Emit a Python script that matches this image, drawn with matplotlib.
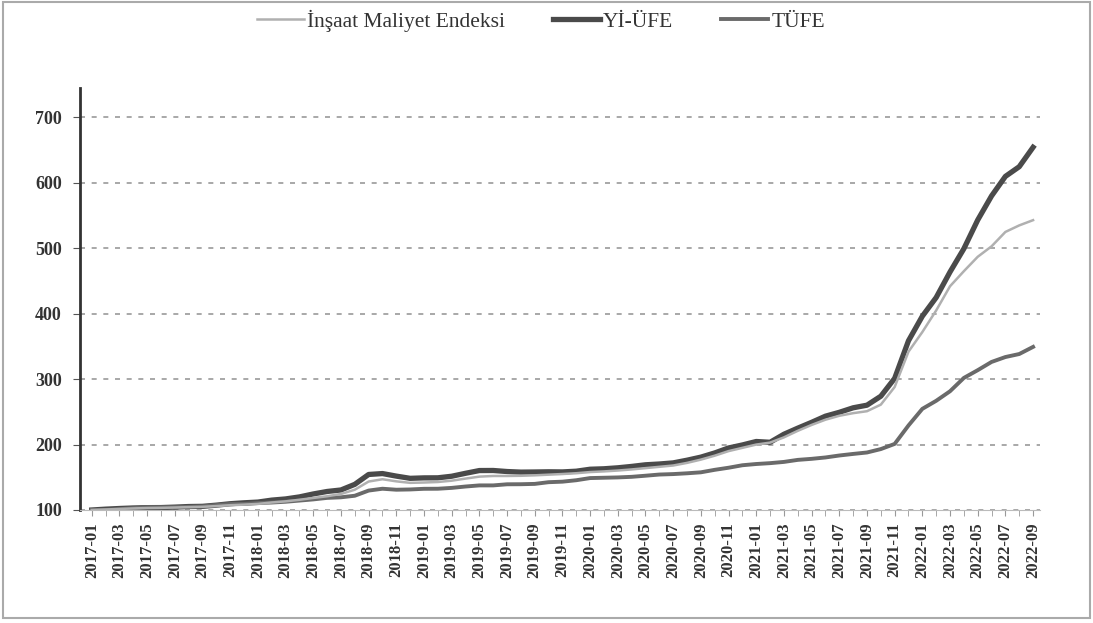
#! python3

import numpy as np
import matplotlib as mpl
import matplotlib.pyplot as plt
from matplotlib.patches import Rectangle

# monthly, 2017-01 .. 2022-09 (2017-01 = 100)
months = ['%d-%02d' % (y, m) for y in range(2017, 2023) for m in range(1, 13)][:69]

insaat = [100, 100.8, 101.6, 102.4, 103.0, 103.3, 103.8, 104.4, 104.9, 106.0, 107.3, 108.2,
          109.3, 111.5, 113.2, 115.6, 118.4, 121.0, 124.5, 131.0, 143.5, 147.0, 143.8, 141.5,
          142.0, 142.8, 144.8, 148.0, 151.0, 152.0, 152.0, 152.3, 153.0, 154.0, 155.0, 156.2,
          158.0, 159.0, 160.3, 162.0, 164.0, 166.0, 168.0, 172.0, 177.0, 183.0, 190.0, 195.0,
          200.0, 203.0, 211.0, 221.0, 230.0, 238.0, 244.0, 248.0, 251.0, 261.0, 288.0, 342.0,
          372.0, 405.0, 442.0, 465.0, 487.0, 503.0, 525.0, 535.0, 543.0]
yi_ufe = [100, 101.3, 102.3, 103.1, 103.6, 103.7, 104.4, 105.3, 105.6, 107.4, 109.6, 111.0,
          112.1, 115.1, 116.9, 120.0, 124.5, 128.3, 130.6, 139.2, 154.3, 155.7, 151.8, 148.4,
          149.1, 149.2, 151.6, 156.1, 160.3, 160.4, 158.8, 157.9, 158.1, 158.4, 158.2, 159.3,
          162.3, 163.0, 164.5, 166.6, 169.1, 170.3, 172.0, 176.1, 180.8, 187.2, 194.8, 199.4,
          204.7, 203.5, 215.8, 225.1, 234.0, 243.4, 249.3, 256.2, 260.2, 273.9, 301.2, 358.7,
          396.2, 424.8, 463.8, 499.4, 543.2, 580.0, 609.9, 624.7, 654.4]
tufe = [100, 100.1, 101.3, 102.8, 104.3, 104.1, 104.3, 104.8, 105.5, 107.5, 109.1, 109.2,
        110.6, 111.4, 112.6, 114.4, 116.2, 118.5, 119.4, 121.8, 129.7, 132.5, 131.0, 131.4,
        132.4, 132.5, 133.8, 135.9, 137.6, 137.6, 139.3, 139.4, 139.9, 142.5, 143.3, 145.5,
        148.8, 149.3, 149.8, 150.7, 152.4, 154.2, 154.9, 156.1, 157.6, 161.4, 164.6, 168.4,
        170.3, 171.6, 173.5, 176.6, 178.2, 180.3, 183.3, 185.7, 187.9, 193.1, 201.0, 229.2,
        254.6, 266.9, 281.5, 301.9, 313.7, 326.3, 333.8, 338.4, 349.3]

yticks = [100, 200, 300, 400, 500, 600, 700]


def run():
  plt.rcParams['font.family'] = ['Liberation Serif', 'DejaVu Serif']
  fig = plt.figure(figsize=(10.93, 6.23), dpi=100)
  ax = fig.add_axes([80/1093, 1 - 510/623, 960/1093, 422/623])

  x = np.arange(len(months))
  ax.plot(x, insaat, color='#b0b0b0', lw=1.8, label='İnşaat Maliyet Endeksi', zorder=3)
  ax.plot(x, yi_ufe, color='#4a4a4a', lw=3.8, label='Yİ-ÜFE', zorder=2)
  ax.plot(x, tufe, color='#6a6a6a', lw=2.8, label='TÜFE', zorder=2)

  ax.set_xlim(-0.85, 68.5)
  ax.set_ylim(100, 745)
  ax.set_yticks(yticks)
  ax.set_yticklabels([str(v) for v in yticks], fontsize=13, fontweight='bold',
                     color='#333333')
  ax.set_xticks(x[::2])
  ax.set_xticklabels(months[::2], rotation=90, fontsize=12, fontweight='bold',
                     color='#333333')
  ax.set_xticks(x, minor=True)
  ax.tick_params(axis='x', which='both', length=4, color='#999999', pad=5)
  ax.tick_params(axis='y', length=5, color='#555555', pad=8)
  ax.grid(axis='y', ls=(0, (3, 4)), color='#999999', lw=1.2)

  for s in ['top', 'right']:
    ax.spines[s].set_visible(False)
  ax.spines['bottom'].set_color('#bbbbbb')
  ax.spines['left'].set_color('#333333')
  ax.spines['left'].set_linewidth(2)

  ax.legend(loc='center', bbox_to_anchor=(0.48, 1.16), ncol=3, frameon=False,
            handlelength=2.2, handletextpad=0.15, columnspacing=2.2,
            prop={'size': 15.5}, labelcolor='#333333')

  fig.patches.append(Rectangle((0.003, 0.008), 0.994, 0.988, transform=fig.transFigure,
                               fill=False, edgecolor='#aaaaaa', lw=1.5))
  fig.savefig('out.png', dpi=100)


if __name__ == '__main__':
  run()
